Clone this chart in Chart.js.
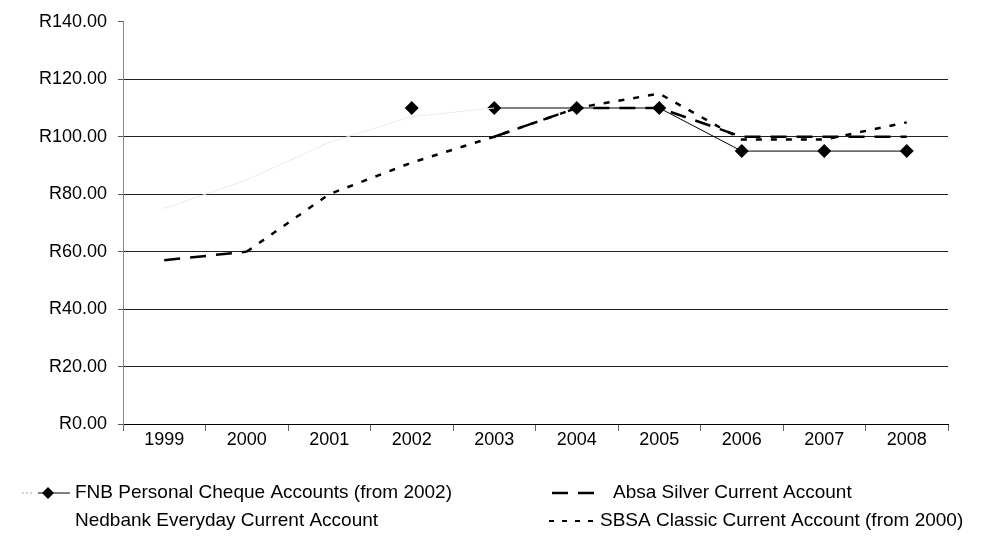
<!DOCTYPE html>
<html>
<head>
<meta charset="utf-8">
<script src="https://cdn.jsdelivr.net/npm/chart.js@4/dist/chart.umd.min.js"></script>
<style>
  html, body { margin: 0; padding: 0; background: #fff; }
  #wrap { width: 985px; height: 538px; }
</style>
</head>
<body>
<div id="wrap"><canvas id="chart" width="985" height="538"></canvas></div>
<script>
// values (rand per year)
const years = ["1999", "2000", "2001", "2002", "2003", "2004", "2005", "2006", "2007", "2008"];
const fnb = [null, null, null, 110, 110, 110, 110, 95, 95, 95];
const absa = [57, 60, null, null, 100, 110, 110, 100, 100, 100];
const nedbank = [75, 85, 98, 107, 110, null, null, null, null, null];
const sbsa = [null, 60, 80, 91, 100, 110, 115, 99, 99, 105];
const yTicks = [0, 20, 40, 60, 80, 100, 120, 140];

const legendItems = [
  { label: "FNB Personal Cheque Accounts (from 2002)", kind: "fnb", x: 75, y: 493 },
  { label: "Absa Silver Current Account", kind: "absa", x: 613, y: 493 },
  { label: "Nedbank Everyday Current Account", kind: "ned", x: 75, y: 521 },
  { label: "SBSA Classic Current Account (from 2000)", kind: "sbsa", x: 600, y: 521 }
];

Chart.defaults.font.family = "'Liberation Sans', Arial, sans-serif";
Chart.defaults.color = "#000";

const bottomLegend = {
  id: "bottomLegend",
  afterDraw(chart) {
    const ctx = chart.ctx;
    ctx.save();
    ctx.font = "19px 'Liberation Sans', Arial, sans-serif";
    ctx.textBaseline = "middle";
    ctx.fillStyle = "#000";
    legendItems.forEach(item => {
      const y = item.y;
      ctx.strokeStyle = "#000";
      if (item.kind === "fnb") {
        ctx.strokeStyle = "#aaa";
        ctx.lineWidth = 1;
        ctx.setLineDash([2, 2]);
        ctx.beginPath(); ctx.moveTo(22, y); ctx.lineTo(34, y); ctx.stroke();
        ctx.setLineDash([]);
        ctx.strokeStyle = "#000";
        ctx.beginPath(); ctx.moveTo(38, y); ctx.lineTo(44, y); ctx.stroke();
        ctx.beginPath(); ctx.moveTo(52, y); ctx.lineTo(70, y); ctx.stroke();
        ctx.beginPath();
        ctx.moveTo(48, y - 6); ctx.lineTo(54, y); ctx.lineTo(48, y + 6); ctx.lineTo(42, y);
        ctx.closePath(); ctx.fill();
      } else if (item.kind === "absa") {
        ctx.lineWidth = 2.5;
        ctx.setLineDash([16, 10]);
        ctx.beginPath(); ctx.moveTo(552, y); ctx.lineTo(600, y); ctx.stroke();
      } else if (item.kind === "sbsa") {
        ctx.lineWidth = 2;
        ctx.setLineDash([5, 8]);
        ctx.beginPath(); ctx.moveTo(549, y); ctx.lineTo(598, y); ctx.stroke();
      }
      ctx.setLineDash([]);
      ctx.fillText(item.label, item.x, y);
    });
    ctx.restore();
  }
};

new Chart(document.getElementById("chart"), {
  type: "line",
  data: {
    labels: years,
    datasets: [
      {
        label: "Nedbank Everyday Current Account",
        data: nedbank,
        borderColor: "#ececec",
        borderWidth: 1,
        pointRadius: 0,
        tension: 0
      },
      {
        label: "Absa Silver Current Account",
        data: absa,
        borderColor: "#000",
        borderWidth: 2.5,
        borderDash: [16, 10],
        pointRadius: 0,
        spanGaps: false,
        tension: 0
      },
      {
        label: "SBSA Classic Current Account (from 2000)",
        data: sbsa,
        borderColor: "#000",
        borderWidth: 2.5,
        borderDash: [6, 9],
        pointRadius: 0,
        tension: 0
      },
      {
        label: "FNB Personal Cheque Accounts (from 2002)",
        data: fnb,
        borderColor: "#000",
        backgroundColor: "#000",
        borderWidth: 1,
        pointStyle: "rectRot",
        pointRadius: 7,
        pointBorderWidth: 0,
        tension: 0,
        segment: {
          borderColor: c => c.p0DataIndex === 3 ? "rgba(0,0,0,0)" : "#000"
        }
      }
    ]
  },
  options: {
    responsive: false,
    animation: false,
    layout: { padding: { top: 20, right: 37, left: 0, bottom: 0 } },
    plugins: {
      legend: { display: false },
      tooltip: { enabled: false }
    },
    scales: {
      x: {
        offset: true,
        grid: {
          offset: true,
          drawOnChartArea: false,
          drawTicks: true,
          tickLength: 7,
          tickColor: "#666"
        },
        border: { display: true, color: "#000" },
        ticks: { font: { size: 18 }, padding: -2, maxRotation: 0 },
        afterFit: s => { s.height = 114; }
      },
      y: {
        min: 0,
        max: 140,
        afterBuildTicks: s => { s.ticks = yTicks.map(v => ({ value: v })); },
        grid: {
          color: c => c.tick && c.tick.value === 140 ? "rgba(0,0,0,0)" : "#222",
          lineWidth: 1,
          tickLength: 5,
          tickColor: "#555"
        },
        border: { display: true, color: "#888" },
        ticks: {
          font: { size: 18 },
          padding: 11,
          callback: v => "R" + Number(v).toFixed(2)
        },
        afterFit: s => { s.width = 123; }
      }
    }
  },
  plugins: [bottomLegend]
});
</script>
</body>
</html>
